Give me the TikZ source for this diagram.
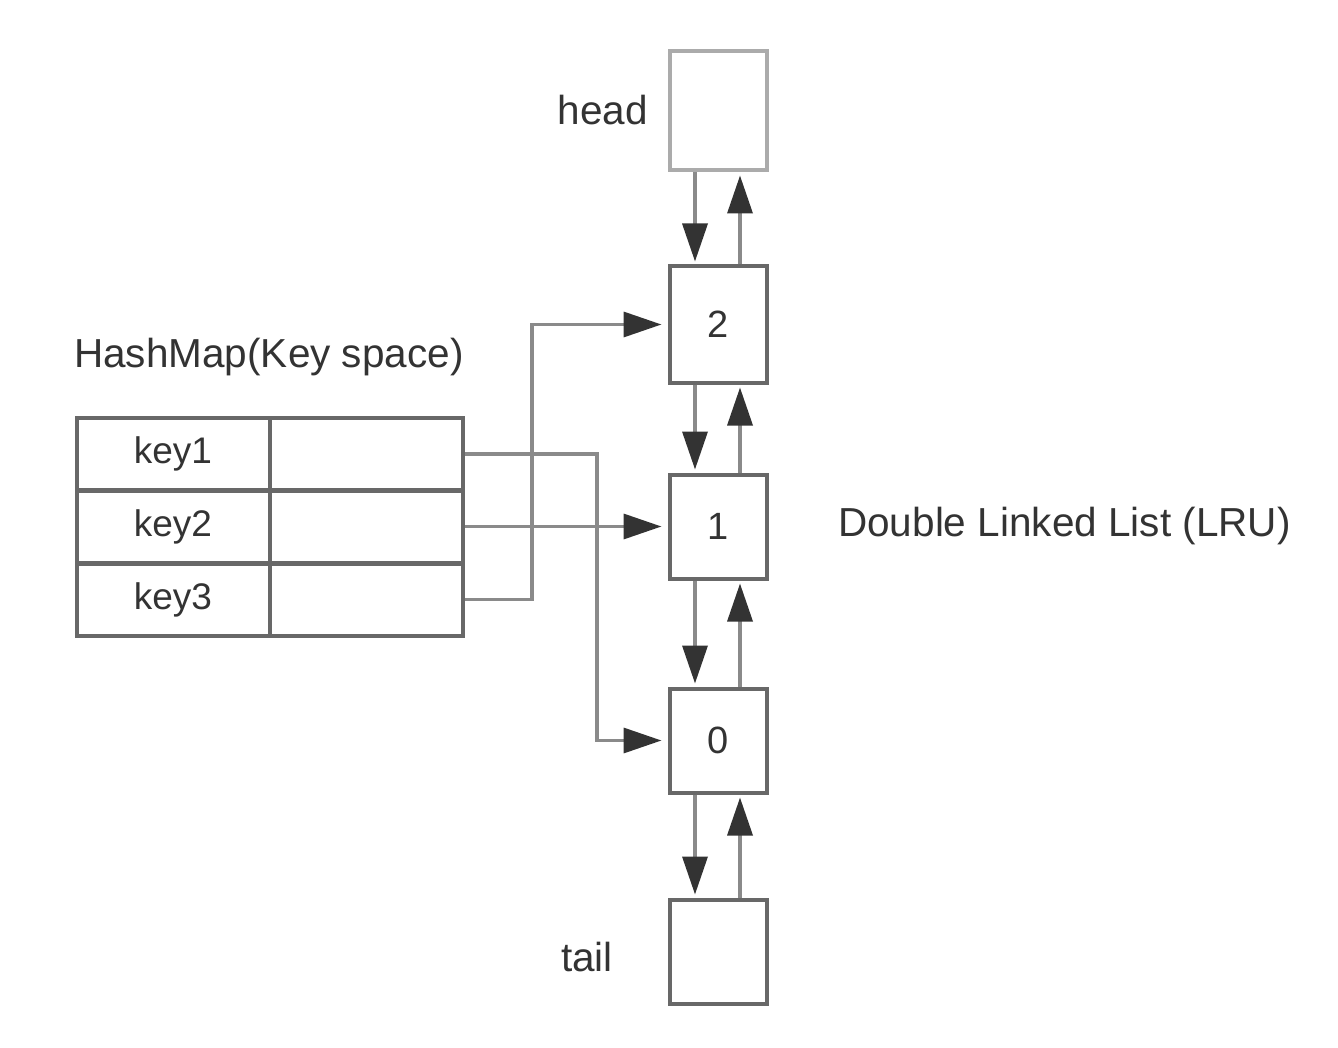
\documentclass[tikz,border=0pt]{standalone}
\usepackage{fontspec}
\setmainfont{Liberation Sans}
\usetikzlibrary{arrows.meta}
\definecolor{boxgray}{HTML}{686868}
\definecolor{headgray}{HTML}{ABABAB}
\definecolor{linegray}{HTML}{8A8A8A}
\definecolor{tipgray}{HTML}{333333}
\definecolor{txt}{HTML}{333333}
\begin{document}
\begin{tikzpicture}[x=1pt,y=-1pt,
  lbl/.style={inner sep=0pt,text=txt,font=\fontsize{40.5}{44}\selectfont},
  listbox/.style={draw=boxgray,line width=4pt,minimum width=97pt,minimum height=#1,inner sep=0pt,text=txt,font=\fontsize{38}{42}\selectfont},
  cell/.style={draw=boxgray,line width=4pt,minimum width=193pt,minimum height=72pt,inner sep=0pt,text=txt,font=\fontsize{37}{40}\selectfont},
  conn/.style={draw=linegray,line width=3.5pt,-{Triangle[length=38pt,width=25pt,color=tipgray]}},
  wire/.style={draw=linegray,line width=3.5pt}
]
\useasboundingbox[fill=white] (0,0) rectangle (1338,1048);

% list boxes
\node[listbox=119pt,draw=headgray] (head) at (718,111) {};
\node[listbox=116pt] (b2) at (718,324.5) {2};
\node[listbox=104pt] (b1) at (718,526.5) {1};
\node[listbox=104pt] (b0) at (718,740.5) {0};
\node[listbox=104pt] (tail) at (718,951.5) {};

% labels
\node[lbl,anchor=east] (lhead) at (648,110) {head};
\node[lbl,anchor=east] (ltail) at (613,957) {tail};
\node[lbl,anchor=west] (lhm) at (74,357) {HashMap(Key space)};
\node[lbl,anchor=west] (ldll) at (838,526) {Double Linked List (LRU)};

% links between list boxes
\foreach \a/\b in {head/b2,b2/b1,b1/b0,b0/tail}{
  \draw[conn,shorten >=3pt] ([xshift=-23pt]\a.south) -- ([xshift=-23pt]\b.north);
  \draw[conn,shorten >=3pt] ([xshift=22pt]\b.north) -- ([xshift=22pt]\a.south);
}

% hash table
\node[cell] (k1) at (173,454) {key1};
\node[cell] (v1) at (366.5,454) {};
\node[cell] (k2) at (173,526.5) {key2};
\node[cell] (v2) at (366.5,526.5) {};
\node[cell] (k3) at (173,599.5) {key3};
\node[cell] (v3) at (366.5,599.5) {};

% pointers
\coordinate (c1) at (597,454);
\coordinate (c3) at (532,599.5);
\draw[conn,shorten >=6pt] (v1.east) -- (c1) |- (b0.west);
\draw[conn,shorten >=6pt] (v2.east) -- (b1.west);
\draw[conn,shorten >=6pt] (v3.east) -- (c3) |- (b2.west);
\end{tikzpicture}
\end{document}
